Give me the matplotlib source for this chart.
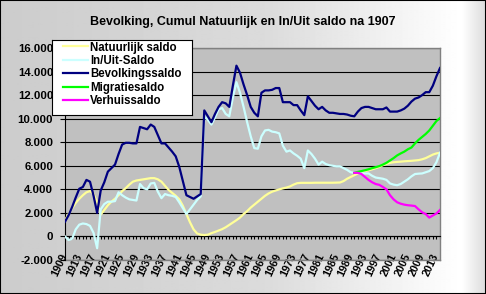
import numpy as np
import matplotlib
matplotlib.use("Agg")
import matplotlib.pyplot as plt
from matplotlib.ticker import FuncFormatter, FixedLocator

plt.rcParams['font.family'] = ['Liberation Sans', 'DejaVu Sans']

years = list(range(1909, 2015))

natuurlijk = [1380, 1900, 2400, 2850, 3200, 3500, 3750, 3850, 3600, 2900,
              1850, 2250, 2650, 2950, 3200, 3500, 3850, 4100, 4400, 4650,
              4750, 4800, 4850, 4900, 4950, 4950, 4850, 4650, 4300, 3950,
              3700, 3450, 3150, 2600, 1900, 1200, 600, 250, 150, 120,
              150, 280, 380, 500, 620, 780, 980, 1180, 1380, 1600,
              1900, 2150, 2450, 2700, 2950, 3200, 3450, 3650, 3800, 3900,
              4000, 4080, 4150, 4250, 4400, 4520, 4550, 4550, 4550, 4550,
              4560, 4560, 4560, 4560, 4560, 4560, 4570, 4580, 4700, 4900,
              5050, 5200, 5350, 5450, 5550, 5620, 5700, 5800, 5900, 6050,
              6150, 6250, 6300, 6330, 6350, 6380, 6400, 6420, 6450, 6480,
              6550, 6650, 6800, 6950, 7050, 7100]

in_uit = [0, -300, -200, 600, 1000, 1100, 1050, 900, 300, -1000,
          2300, 2750, 2950, 2950, 3000, 3750, 3500, 3300, 3150, 3100,
          3050, 4450, 4100, 4000, 4500, 4550, 3800, 3250, 3600, 3500,
          3450, 3350, 2900, 2400, 1900, 2300, 2700, 3100, 3400, 10200,
          9900, 9500, 10100, 10800, 10900, 10400, 10200, 11800, 13100, 12200,
          11000, 9700, 8500, 7500, 7450, 8500, 9000, 9050, 8900, 8850,
          8750, 7700, 7200, 7300, 7050, 6850, 6600, 5800, 7300, 7000,
          6600, 6100, 6350, 6150, 6050, 6000, 5950, 5950, 5800, 5650,
          5450, 5400, 5400, 5350, 5350, 5350, 5150, 5000, 4950, 4900,
          4800, 4500, 4400, 4350, 4450, 4650, 4850, 5100, 5300, 5330,
          5350, 5450, 5550, 5800, 6300, 7100]

bevolking = [1250, 1800, 2500, 3300, 4050, 4200, 4800, 4650, 3450, 2000,
             3900, 4600, 5500, 5800, 6100, 7000, 7800, 7950, 7950, 7900,
             7900, 9300, 9200, 9100, 9500, 9300, 8600, 7900, 7900, 7550,
             7200, 6800, 5900, 4700, 3500, 3350, 3200, 3400, 3600, 10700,
             10200, 9700, 10400, 11000, 11400, 11300, 11000, 12800, 14500, 13900,
             12900, 12000, 11000, 10500, 10200, 12200, 12400, 12400, 12450, 12600,
             12600, 11400, 11400, 11400, 11150, 11150, 10700, 10300, 11900, 11500,
             11100, 10800, 11000, 10700, 10500, 10500, 10450, 10400, 10400, 10350,
             10250, 10200, 10600, 10900, 11000, 11000, 10900, 10800, 10800, 10800,
             10950, 10600, 10600, 10600, 10700, 10850, 11100, 11450, 11700, 11800,
             12000, 12250, 12250, 12800, 13600, 14300]

years_late = list(range(1990, 2015))
migratie = [5400, 5480, 5550, 5620, 5700, 5800, 5880, 5970, 6100, 6250,
            6450, 6650, 6880, 7050, 7200, 7400, 7550, 7900, 8200, 8450,
            8700, 9000, 9400, 9800, 10050]
verhuis = [5400, 5400, 5300, 5050, 4800, 4600, 4450, 4380, 4200, 4000,
           3500, 3150, 2900, 2780, 2700, 2650, 2620, 2580, 2300, 2050,
           1900, 1600, 1780, 1950, 2250]

label_years = list(range(1909, 2014, 4))
yticks = list(range(-2000, 16001, 2000))

W, H = 486, 294
fig = plt.figure(figsize=(W / 100, H / 100), dpi=100)

# background gradient + outer black frame
bg = fig.add_axes([0, 0, 1, 1], zorder=-10)
xs = np.linspace(0, 1, 486)
vals = np.interp(xs, [0, 0.55, 0.95, 1.0], [0.80, 0.86, 1.0, 0.86])
grad = np.tile(vals, (20, 1))
bg.imshow(grad, cmap='gray', vmin=0, vmax=1, aspect='auto', extent=[0, 1, 0, 1])
bg.set_xticks([])
bg.set_yticks([])
for s in bg.spines.values():
    s.set_color('black')
    s.set_linewidth(1.5)

ax = fig.add_axes([65 / W, 34 / H, 375 / W, 212 / H])
ax.set_facecolor('#C0C0C0')

lw = 1.6
l1, = ax.plot(years, natuurlijk, color='#FFFF99', lw=lw, label='Natuurlijk saldo', zorder=3)
l2, = ax.plot(years, in_uit, color='#CCFFFF', lw=lw, label='In/Uit-Saldo', zorder=3)
l3, = ax.plot(years, bevolking, color='#000080', lw=lw, label='Bevolkingssaldo', zorder=3)
l4, = ax.plot(years_late, migratie, color='#00FF00', lw=lw, label='Migratiesaldo', zorder=3)
l5, = ax.plot(years_late, verhuis, color='#FF00FF', lw=lw, label='Verhuissaldo', zorder=3)

ax.set_xlim(1909, 2014)
ax.set_ylim(-2000, 16000)
ax.set_yticks(yticks)
ax.yaxis.set_major_formatter(FuncFormatter(lambda v, p: f"{v:,.0f}".replace(',', '.')))
ax.grid(axis='y', color='black', lw=0.8, zorder=1)
ax.set_axisbelow(True)
ax.tick_params(axis='y', direction='out', length=3.5, width=0.8, pad=5,
               labelsize=8.2, colors='black')
for t in ax.get_yticklabels():
    t.set_fontweight('bold')

ax.spines['bottom'].set_position(('data', 0))
ax.spines['bottom'].set_color('black')
ax.spines['bottom'].set_linewidth(0.8)
ax.spines['left'].set_color('black')
ax.spines['left'].set_linewidth(0.8)
for s in ('top', 'right'):
    ax.spines[s].set_color('#808080')
    ax.spines[s].set_linewidth(1.0)
ax.xaxis.set_major_locator(FixedLocator(years))
ax.tick_params(axis='x', direction='out', length=2.5, width=0.8, labelbottom=False)

sec = ax.secondary_xaxis('bottom')
sec.set_xticks(label_years)
sec.set_xticklabels([str(y) for y in label_years])
sec.spines['bottom'].set_color('#808080')
sec.spines['bottom'].set_linewidth(1.0)
sec.tick_params(axis='x', length=0, pad=-4.5, labelsize=7.8)
for t in sec.get_xticklabels():
    t.set_rotation(65)
    t.set_ha('right')
    t.set_va('center')
    t.set_rotation_mode('anchor')
    t.set_fontweight('bold')

fig.text(243 / W, 1 - 22 / H, 'Bevolking, Cumul Natuurlijk en In/Uit saldo na 1907',
         ha='center', va='center', fontsize=9, fontweight='bold')

# legend box as its own small axes
lax = fig.add_axes([52 / W, 1 - 115 / H, 140 / W, 75 / H], zorder=5)
lax.set_facecolor('white')
lax.set_xticks([])
lax.set_yticks([])
for s in lax.spines.values():
    s.set_color('black')
    s.set_linewidth(0.8)
lax.legend(handles=[l1, l2, l3, l4, l5], loc='upper left',
           bbox_to_anchor=(11 / 140, 1 - 1.5 / 75), frameon=False,
           prop={'size': 8.3, 'weight': 'bold'}, handlelength=2.2,
           handletextpad=0.15, borderpad=0, borderaxespad=0,
           labelspacing=0.12)

fig.savefig('out.png', dpi=100)
